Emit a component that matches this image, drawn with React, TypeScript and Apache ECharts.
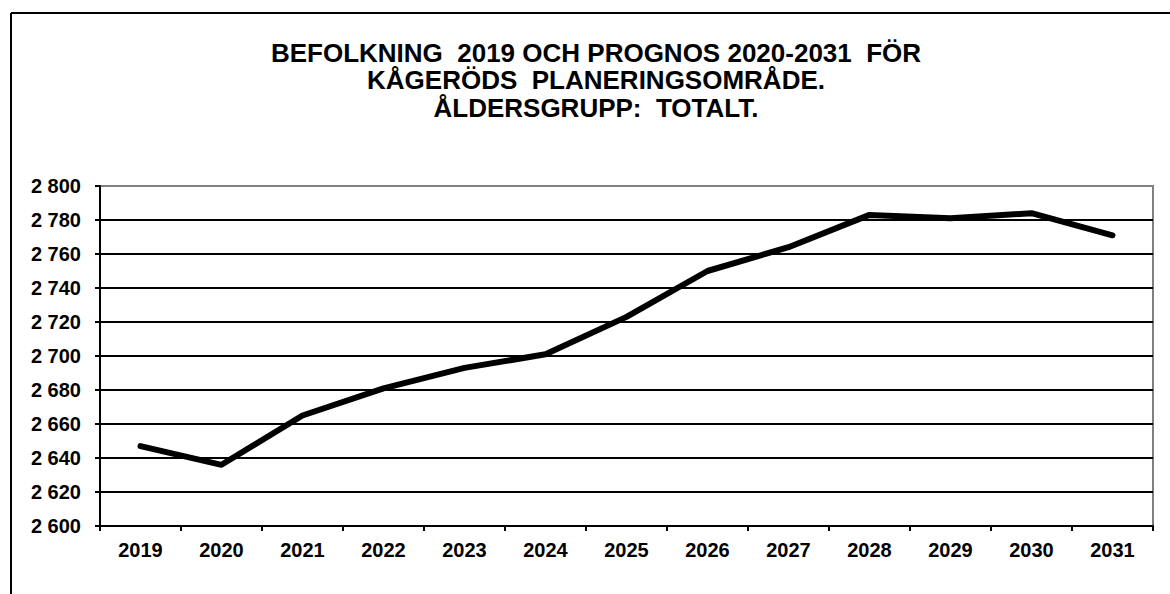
import React, { useEffect, useRef } from "react";
import * as echarts from "echarts";

const years = ["2019", "2020", "2021", "2022", "2023", "2024", "2025", "2026", "2027", "2028", "2029", "2030", "2031"];
const population = [2647, 2636, 2665, 2681, 2693, 2701, 2723, 2750, 2764, 2783, 2781, 2784, 2771];
const titleLines = [
  "BEFOLKNING  2019 OCH PROGNOS 2020-2031  FÖR",
  "KÅGERÖDS  PLANERINGSOMRÅDE.",
  "ÅLDERSGRUPP:  TOTALT.",
];

const FONT = "'Liberation Sans', Arial, Helvetica, sans-serif";

export default function App() {
  const ref = useRef<HTMLDivElement>(null);
  useEffect(() => {
    if (!ref.current) return;
    const chart = echarts.init(ref.current, undefined, { renderer: "svg" });
    chart.setOption({
      animation: false,
      backgroundColor: "#ffffff",
      title: {
        text: titleLines.join("\n"),
        left: 591,
        textAlign: "center",
        top: 34,
        padding: 5,
        textStyle: {
          fontFamily: FONT,
          fontWeight: "bold",
          fontSize: 26,
          lineHeight: 27.5,
          color: "#000",
        },
      },
      graphic: [
        { type: "line", shape: { x1: 11, y1: 13, x2: 1170, y2: 13 }, style: { stroke: "#000", lineWidth: 2 } },
        { type: "line", shape: { x1: 11, y1: 13, x2: 11, y2: 594 }, style: { stroke: "#000", lineWidth: 2 } },
      ],
      grid: {
        left: 100,
        top: 186,
        width: 1053,
        height: 340,
        show: true,
        borderColor: "#808080",
        borderWidth: 2,
        containLabel: false,
      },
      xAxis: {
        type: "category",
        data: years,
        boundaryGap: true,
        axisLine: { show: true, lineStyle: { color: "#000", width: 2 } },
        axisTick: { show: true, length: 5, interval: 0, alignWithLabel: false, lineStyle: { color: "#000", width: 2 } },
        axisLabel: {
          margin: 14,
          fontFamily: FONT,
          fontWeight: "bold",
          fontSize: 20,
          color: "#000",
          interval: 0,
        },
        splitLine: { show: false },
      },
      yAxis: {
        type: "value",
        min: 2600,
        max: 2800,
        interval: 20,
        axisLine: { show: true, lineStyle: { color: "#000", width: 2 } },
        axisTick: { show: true, length: 5, lineStyle: { color: "#000", width: 2 } },
        axisLabel: {
          margin: 19,
          fontFamily: FONT,
          fontWeight: "bold",
          fontSize: 20,
          color: "#000",
          formatter: (v: number) => {
            const s = String(Math.round(v));
            return s.replace(/\B(?=(\d{3})+(?!\d))/g, " ");
          },
        },
        splitLine: { show: true, showMinLine: false, showMaxLine: false, lineStyle: { color: "#000", width: 2 } },
      },
      series: [
        {
          type: "line",
          data: population,
          showSymbol: false,
          symbol: "none",
          lineStyle: { color: "#000", width: 6, cap: "round", join: "round" },
        },
      ],
    });
    return () => chart.dispose();
  }, []);
  return (
    <div
      ref={ref}
      style={{ position: "absolute", left: 0, top: 0, width: 1170, height: 594, background: "#fff" }}
    />
  );
}
